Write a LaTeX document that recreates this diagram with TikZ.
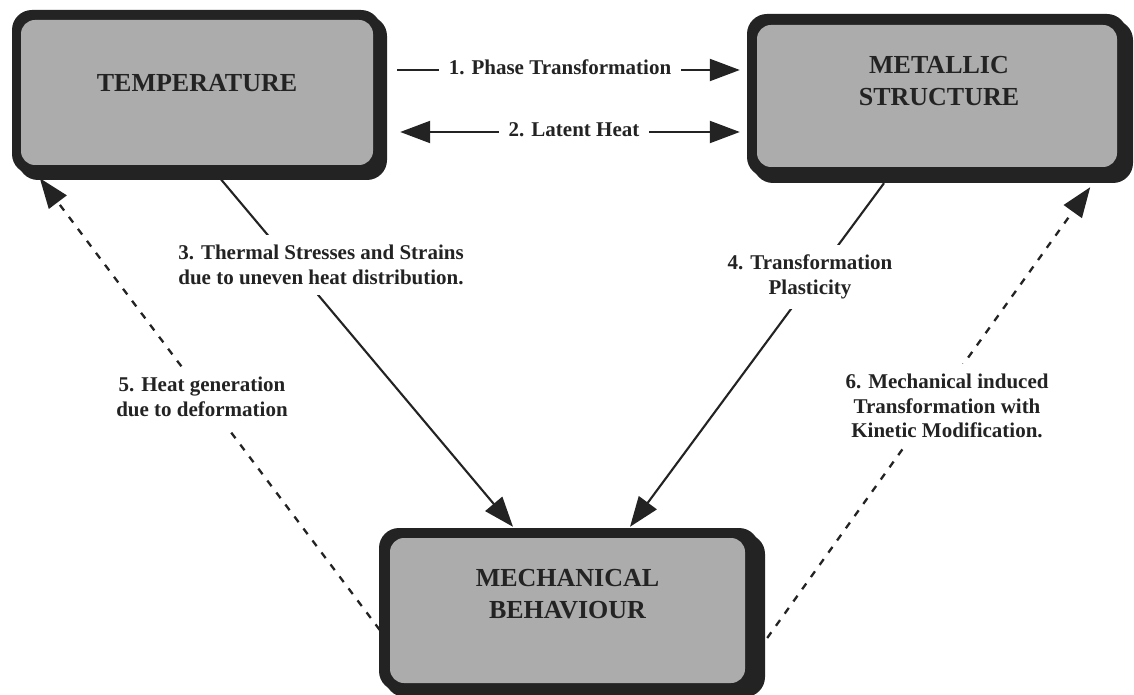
\documentclass[tikz,border=0pt]{standalone}
\usepackage{fontspec}
\setmainfont{Liberation Serif}
\usetikzlibrary{arrows.meta,calc}
\definecolor{boxgray}{RGB}{172,172,172}
\definecolor{ink}{RGB}{35,35,35}
\begin{document}
\begin{tikzpicture}[x=1pt,y=1pt,
  frame/.style={fill=ink, rounded corners=20pt},
  boxnode/.style={fill=boxgray, rounded corners=14pt, inner sep=0pt, draw=none},
  boxtext/.style={font=\fontsize{26}{32}\selectfont\bfseries, text=ink, align=center, inner sep=0pt},
  lbl/.style={font=\fontsize{21}{24.5}\selectfont\bfseries, text=ink, align=center, fill=white, inner sep=10pt},
  conn/.style={draw=ink, line width=2.1pt, -{Triangle[length=30pt,width=22pt]}},
  dconn/.style={conn, line width=2.3pt, dash pattern=on 7pt off 8pt},
]
\useasboundingbox (0,0) rectangle (1134,694);
\fill[white] (0,0) rectangle (1134,694);

% TEMPERATURE box
\fill[frame] (12,684) rectangle (381,520);
\fill[frame] (18,678) rectangle (387,514);
\node[boxnode, minimum width=352pt, minimum height=145pt] (T) at (197,601.5) {};
\node[boxtext] (Ttext) at (197,611) {TEMPERATURE};

% METALLIC STRUCTURE box
\fill[frame] (747,680) rectangle (1127,517);
\fill[frame] (753,674) rectangle (1133,511);
\node[boxnode, minimum width=360pt, minimum height=142pt] (M) at (937,598) {};
\node[boxtext] (Mtext) at (939,613) {METALLIC\\STRUCTURE};

% MECHANICAL BEHAVIOUR box
\fill[frame] (379,166) rectangle (759,3);
\fill[frame] (385,160) rectangle (765,-3);
\node[boxnode, minimum width=355pt, minimum height=145pt] (B) at (567.5,83.5) {};
\node[boxtext] (Btext) at (567.5,100) {MECHANICAL\\BEHAVIOUR};

% connectors
\draw[conn] ([shift={(24,22.5)}]T.east) -- ([shift={(-17,26)}]M.west);
\draw[conn, {Triangle[length=30pt,width=22pt]}-{Triangle[length=30pt,width=22pt]}] ([shift={(27,-39.5)}]T.east) -- ([shift={(-17,-36)}]M.west);
\draw[conn] ([shift={(23,-13)}]T.south) -- ([shift={(-54.5,11)}]B.north);
\draw[conn] ([shift={(-53,-16)}]M.south) -- ([shift={(62.5,11)}]B.north);
\draw[dconn] ([shift={(-10,-19.5)}]B.west) -- ([shift={(19,-13)}]T.south west);
\draw[dconn] ([shift={(22,-27.5)}]B.east) -- ([shift={(-27,-20)}]M.south east);

% labels
\node[lbl] (l1) at (560,627) {1. Phase Transformation};
\node[lbl] (l2) at (574,564) {2. Latent Heat};
\node[lbl] (l3) at (321,429) {3. Thermal Stresses and Strains\\due to uneven heat distribution.};
\node[lbl] (l4) at (810,417) {4. Transformation\\Plasticity};
\node[lbl] (l5) at (202,297) {5. Heat generation\\due to deformation};
\node[lbl] (l6) at (947,288) {6. Mechanical induced\\Transformation with\\Kinetic Modification.};
\end{tikzpicture}
\end{document}
